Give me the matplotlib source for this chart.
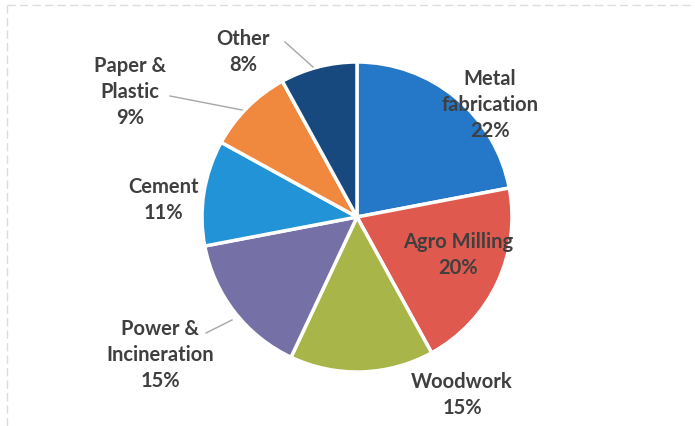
import matplotlib.pyplot as plt

plt.rcParams['font.family'] = ['Lato', 'DejaVu Sans']

sectors = ['Metal\nfabrication', 'Agro Milling', 'Woodwork', 'Power &\nIncineration',
           'Cement', 'Paper &\nPlastic', 'Other']
shares = [22, 20, 15, 15, 11, 9, 8]
colors = ['#2577c8', '#e0594f', '#a8b548', '#7570a6', '#2193d6', '#f0883e', '#17497e']

# label block centres and leader line ends, in pixels from the top-left corner
label_pos = [(490, 105), (458, 255), (462, 395), (160, 355), (163, 200), (130, 92), (243, 52)]
leaders = {3: [(206, 334), (232, 321)],
           5: [(170, 97), (242, 111)],
           6: [(285, 43), (313, 68)]}

W, H = 695, 427
CX, CY, R = 357, 218, 155

fig = plt.figure(figsize=(W / 100, H / 100), dpi=100)
ax = fig.add_axes([0, 0, 1, 1])

ax.pie(shares, colors=colors, startangle=90, counterclock=False,
       center=(CX, H - CY), radius=R,
       wedgeprops=dict(edgecolor='white', linewidth=2.5))

for i, (name, val) in enumerate(zip(sectors, shares)):
    x, y = label_pos[i]
    ax.text(x, H - y, f'{name}\n{val}%', ha='center', va='center',
            fontsize=14.5, fontweight='bold', color='#3f3f3f', linespacing=1.38)

for pts in leaders.values():
    ax.plot([p[0] for p in pts], [H - p[1] for p in pts], color='#a6a6a6', lw=1)

# faint frame at top and left
ax.plot([7, W], [H - 6, H - 6], color='#dcdcdc', lw=1, ls=(0, (6, 3)))
ax.plot([7, 7], [H - 6, 0], color='#dcdcdc', lw=1, ls=(0, (6, 3)))

ax.set_xlim(0, W)
ax.set_ylim(0, H)
ax.set_aspect('equal')
ax.axis('off')

fig.savefig('out.png', dpi=100, facecolor='white')
